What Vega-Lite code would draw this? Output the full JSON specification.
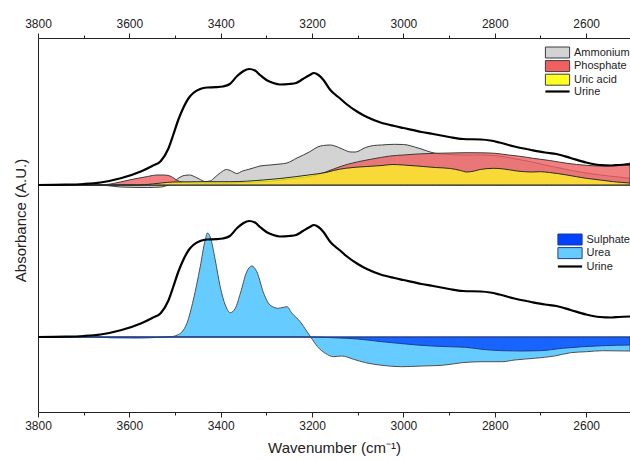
{
  "$schema": "https://vega.github.io/schema/vega-lite/v6.json",
  "width": 592,
  "height": 374,
  "autosize": {"type": "none"},
  "padding": {"left": 38, "top": 38, "right": 0, "bottom": 48},
  "config": {
    "view": {"stroke": null},
    "font": "Liberation Sans",
    "axis": {"grid": false, "domainColor": "#222222", "tickColor": "#222222", "labelColor": "#222222", "titleColor": "#222222", "labelFontSize": 12, "titleFontSize": 15, "titleFontWeight": "normal", "labelFont": "Liberation Sans", "titleFont": "Liberation Sans"},
    "legend": {"labelFont": "Liberation Sans", "labelFontSize": 11, "labelColor": "#222222", "padding": 0}
  },
  "datasets": {
    "urine": [
      {"series": "Urine", "wn": 3800, "v": 0}, {"series": "Urine", "wn": 3740, "v": 0.003}, {"series": "Urine", "wn": 3700, "v": 0.01},
      {"series": "Urine", "wn": 3663, "v": 0.025}, {"series": "Urine", "wn": 3619, "v": 0.067}, {"series": "Urine", "wn": 3575, "v": 0.135},
      {"series": "Urine", "wn": 3550, "v": 0.19}, {"series": "Urine", "wn": 3531, "v": 0.24}, {"series": "Urine", "wn": 3515, "v": 0.36},
      {"series": "Urine", "wn": 3504, "v": 0.5}, {"series": "Urine", "wn": 3493, "v": 0.65}, {"series": "Urine", "wn": 3482, "v": 0.77},
      {"series": "Urine", "wn": 3470, "v": 0.87}, {"series": "Urine", "wn": 3460, "v": 0.92}, {"series": "Urine", "wn": 3445, "v": 0.96},
      {"series": "Urine", "wn": 3430, "v": 0.975}, {"series": "Urine", "wn": 3410, "v": 0.978}, {"series": "Urine", "wn": 3395, "v": 0.985},
      {"series": "Urine", "wn": 3380, "v": 1.01}, {"series": "Urine", "wn": 3364, "v": 1.09}, {"series": "Urine", "wn": 3350, "v": 1.14},
      {"series": "Urine", "wn": 3338, "v": 1.16}, {"series": "Urine", "wn": 3325, "v": 1.145}, {"series": "Urine", "wn": 3314, "v": 1.1},
      {"series": "Urine", "wn": 3300, "v": 1.05}, {"series": "Urine", "wn": 3285, "v": 1.02}, {"series": "Urine", "wn": 3270, "v": 1.005},
      {"series": "Urine", "wn": 3250, "v": 1.01}, {"series": "Urine", "wn": 3235, "v": 1.02}, {"series": "Urine", "wn": 3220, "v": 1.06},
      {"series": "Urine", "wn": 3205, "v": 1.1}, {"series": "Urine", "wn": 3196, "v": 1.12}, {"series": "Urine", "wn": 3186, "v": 1.1},
      {"series": "Urine", "wn": 3175, "v": 1.05}, {"series": "Urine", "wn": 3160, "v": 0.95}, {"series": "Urine", "wn": 3140, "v": 0.87},
      {"series": "Urine", "wn": 3125, "v": 0.81}, {"series": "Urine", "wn": 3100, "v": 0.73}, {"series": "Urine", "wn": 3080, "v": 0.68},
      {"series": "Urine", "wn": 3050, "v": 0.625}, {"series": "Urine", "wn": 3020, "v": 0.59}, {"series": "Urine", "wn": 3000, "v": 0.57},
      {"series": "Urine", "wn": 2960, "v": 0.53}, {"series": "Urine", "wn": 2935, "v": 0.51}, {"series": "Urine", "wn": 2900, "v": 0.48},
      {"series": "Urine", "wn": 2870, "v": 0.46}, {"series": "Urine", "wn": 2830, "v": 0.455}, {"series": "Urine", "wn": 2810, "v": 0.445},
      {"series": "Urine", "wn": 2790, "v": 0.425}, {"series": "Urine", "wn": 2757, "v": 0.385}, {"series": "Urine", "wn": 2720, "v": 0.35},
      {"series": "Urine", "wn": 2690, "v": 0.325}, {"series": "Urine", "wn": 2665, "v": 0.31}, {"series": "Urine", "wn": 2634, "v": 0.27},
      {"series": "Urine", "wn": 2600, "v": 0.225}, {"series": "Urine", "wn": 2570, "v": 0.2}, {"series": "Urine", "wn": 2545, "v": 0.195},
      {"series": "Urine", "wn": 2528, "v": 0.2}, {"series": "Urine", "wn": 2504, "v": 0.205}
    ],
    "panelA": [
      {"series": "Ammonium", "wn": 3800, "v": 0}, {"series": "Ammonium", "wn": 3680, "v": 0}, {"series": "Ammonium", "wn": 3650, "v": -0.005},
      {"series": "Ammonium", "wn": 3620, "v": -0.02}, {"series": "Ammonium", "wn": 3560, "v": -0.025}, {"series": "Ammonium", "wn": 3530, "v": -0.02},
      {"series": "Ammonium", "wn": 3515, "v": 0}, {"series": "Ammonium", "wn": 3505, "v": 0.02}, {"series": "Ammonium", "wn": 3495, "v": 0.06},
      {"series": "Ammonium", "wn": 3480, "v": 0.095}, {"series": "Ammonium", "wn": 3468, "v": 0.1}, {"series": "Ammonium", "wn": 3458, "v": 0.085},
      {"series": "Ammonium", "wn": 3447, "v": 0.06}, {"series": "Ammonium", "wn": 3434, "v": 0.035}, {"series": "Ammonium", "wn": 3423, "v": 0.04},
      {"series": "Ammonium", "wn": 3412, "v": 0.08}, {"series": "Ammonium", "wn": 3400, "v": 0.125}, {"series": "Ammonium", "wn": 3387, "v": 0.155},
      {"series": "Ammonium", "wn": 3377, "v": 0.14}, {"series": "Ammonium", "wn": 3365, "v": 0.115}, {"series": "Ammonium", "wn": 3352, "v": 0.14},
      {"series": "Ammonium", "wn": 3340, "v": 0.155}, {"series": "Ammonium", "wn": 3325, "v": 0.175}, {"series": "Ammonium", "wn": 3314, "v": 0.19},
      {"series": "Ammonium", "wn": 3292, "v": 0.2}, {"series": "Ammonium", "wn": 3270, "v": 0.21}, {"series": "Ammonium", "wn": 3255, "v": 0.22},
      {"series": "Ammonium", "wn": 3233, "v": 0.27}, {"series": "Ammonium", "wn": 3204, "v": 0.335}, {"series": "Ammonium", "wn": 3188, "v": 0.38},
      {"series": "Ammonium", "wn": 3175, "v": 0.395}, {"series": "Ammonium", "wn": 3160, "v": 0.4}, {"series": "Ammonium", "wn": 3150, "v": 0.39},
      {"series": "Ammonium", "wn": 3134, "v": 0.36}, {"series": "Ammonium", "wn": 3115, "v": 0.33}, {"series": "Ammonium", "wn": 3105, "v": 0.33},
      {"series": "Ammonium", "wn": 3083, "v": 0.375}, {"series": "Ammonium", "wn": 3065, "v": 0.395}, {"series": "Ammonium", "wn": 3048, "v": 0.4},
      {"series": "Ammonium", "wn": 3020, "v": 0.407}, {"series": "Ammonium", "wn": 3000, "v": 0.405}, {"series": "Ammonium", "wn": 2968, "v": 0.37},
      {"series": "Ammonium", "wn": 2933, "v": 0.32}, {"series": "Ammonium", "wn": 2900, "v": 0.305}, {"series": "Ammonium", "wn": 2861, "v": 0.3},
      {"series": "Ammonium", "wn": 2830, "v": 0.3}, {"series": "Ammonium", "wn": 2795, "v": 0.292}, {"series": "Ammonium", "wn": 2760, "v": 0.265},
      {"series": "Ammonium", "wn": 2716, "v": 0.228}, {"series": "Ammonium", "wn": 2680, "v": 0.19}, {"series": "Ammonium", "wn": 2642, "v": 0.155},
      {"series": "Ammonium", "wn": 2600, "v": 0.12}, {"series": "Ammonium", "wn": 2569, "v": 0.1}, {"series": "Ammonium", "wn": 2530, "v": 0.08},
      {"series": "Ammonium", "wn": 2504, "v": 0.067},
      {"series": "Phosphate", "wn": 3800, "v": 0}, {"series": "Phosphate", "wn": 3680, "v": 0}, {"series": "Phosphate", "wn": 3650, "v": 0.005},
      {"series": "Phosphate", "wn": 3620, "v": 0.03}, {"series": "Phosphate", "wn": 3590, "v": 0.06}, {"series": "Phosphate", "wn": 3560, "v": 0.085},
      {"series": "Phosphate", "wn": 3540, "v": 0.1}, {"series": "Phosphate", "wn": 3525, "v": 0.1}, {"series": "Phosphate", "wn": 3511, "v": 0.09},
      {"series": "Phosphate", "wn": 3500, "v": 0.06}, {"series": "Phosphate", "wn": 3490, "v": 0.035}, {"series": "Phosphate", "wn": 3475, "v": 0.025},
      {"series": "Phosphate", "wn": 3440, "v": 0.02}, {"series": "Phosphate", "wn": 3400, "v": 0.02}, {"series": "Phosphate", "wn": 3350, "v": 0.025},
      {"series": "Phosphate", "wn": 3300, "v": 0.035}, {"series": "Phosphate", "wn": 3250, "v": 0.06}, {"series": "Phosphate", "wn": 3200, "v": 0.09},
      {"series": "Phosphate", "wn": 3170, "v": 0.13}, {"series": "Phosphate", "wn": 3150, "v": 0.165}, {"series": "Phosphate", "wn": 3120, "v": 0.21},
      {"series": "Phosphate", "wn": 3080, "v": 0.25}, {"series": "Phosphate", "wn": 3050, "v": 0.275}, {"series": "Phosphate", "wn": 3029, "v": 0.29},
      {"series": "Phosphate", "wn": 3000, "v": 0.3}, {"series": "Phosphate", "wn": 2970, "v": 0.31}, {"series": "Phosphate", "wn": 2930, "v": 0.317},
      {"series": "Phosphate", "wn": 2897, "v": 0.32}, {"series": "Phosphate", "wn": 2861, "v": 0.323}, {"series": "Phosphate", "wn": 2830, "v": 0.322},
      {"series": "Phosphate", "wn": 2800, "v": 0.317}, {"series": "Phosphate", "wn": 2770, "v": 0.3}, {"series": "Phosphate", "wn": 2750, "v": 0.29},
      {"series": "Phosphate", "wn": 2716, "v": 0.267}, {"series": "Phosphate", "wn": 2680, "v": 0.245}, {"series": "Phosphate", "wn": 2642, "v": 0.217},
      {"series": "Phosphate", "wn": 2600, "v": 0.197}, {"series": "Phosphate", "wn": 2569, "v": 0.19}, {"series": "Phosphate", "wn": 2540, "v": 0.195},
      {"series": "Phosphate", "wn": 2520, "v": 0.205}, {"series": "Phosphate", "wn": 2504, "v": 0.22},
      {"series": "Uric acid", "wn": 3800, "v": 0}, {"series": "Uric acid", "wn": 3580, "v": 0}, {"series": "Uric acid", "wn": 3550, "v": 0.01},
      {"series": "Uric acid", "wn": 3530, "v": 0.02}, {"series": "Uric acid", "wn": 3504, "v": 0.03}, {"series": "Uric acid", "wn": 3450, "v": 0.033},
      {"series": "Uric acid", "wn": 3380, "v": 0.033}, {"series": "Uric acid", "wn": 3307, "v": 0.05}, {"series": "Uric acid", "wn": 3270, "v": 0.065},
      {"series": "Uric acid", "wn": 3233, "v": 0.085}, {"series": "Uric acid", "wn": 3200, "v": 0.105}, {"series": "Uric acid", "wn": 3170, "v": 0.125},
      {"series": "Uric acid", "wn": 3153, "v": 0.145}, {"series": "Uric acid", "wn": 3127, "v": 0.167}, {"series": "Uric acid", "wn": 3080, "v": 0.185},
      {"series": "Uric acid", "wn": 3047, "v": 0.195}, {"series": "Uric acid", "wn": 3025, "v": 0.205}, {"series": "Uric acid", "wn": 3000, "v": 0.2},
      {"series": "Uric acid", "wn": 2970, "v": 0.19}, {"series": "Uric acid", "wn": 2930, "v": 0.175}, {"series": "Uric acid", "wn": 2897, "v": 0.165},
      {"series": "Uric acid", "wn": 2875, "v": 0.145}, {"series": "Uric acid", "wn": 2861, "v": 0.13}, {"series": "Uric acid", "wn": 2845, "v": 0.14},
      {"series": "Uric acid", "wn": 2832, "v": 0.155}, {"series": "Uric acid", "wn": 2802, "v": 0.167}, {"series": "Uric acid", "wn": 2780, "v": 0.16},
      {"series": "Uric acid", "wn": 2751, "v": 0.14}, {"series": "Uric acid", "wn": 2720, "v": 0.13}, {"series": "Uric acid", "wn": 2700, "v": 0.133},
      {"series": "Uric acid", "wn": 2680, "v": 0.125}, {"series": "Uric acid", "wn": 2642, "v": 0.1}, {"series": "Uric acid", "wn": 2600, "v": 0.067},
      {"series": "Uric acid", "wn": 2569, "v": 0.05}, {"series": "Uric acid", "wn": 2540, "v": 0.033}, {"series": "Uric acid", "wn": 2504, "v": 0.02}
    ],
    "panelB": [
      {"series": "Urea", "wn": 3800, "v": 0}, {"series": "Urea", "wn": 3520, "v": 0}, {"series": "Urea", "wn": 3511, "v": 0.002},
      {"series": "Urea", "wn": 3495, "v": 0.02}, {"series": "Urea", "wn": 3485, "v": 0.05}, {"series": "Urea", "wn": 3474, "v": 0.137},
      {"series": "Urea", "wn": 3460, "v": 0.37}, {"series": "Urea", "wn": 3445, "v": 0.7}, {"series": "Urea", "wn": 3434, "v": 0.97},
      {"series": "Urea", "wn": 3429, "v": 1.04}, {"series": "Urea", "wn": 3423, "v": 1.0}, {"series": "Urea", "wn": 3412, "v": 0.77},
      {"series": "Urea", "wn": 3401, "v": 0.5}, {"series": "Urea", "wn": 3390, "v": 0.32}, {"series": "Urea", "wn": 3379, "v": 0.243},
      {"series": "Urea", "wn": 3368, "v": 0.287}, {"series": "Urea", "wn": 3357, "v": 0.437}, {"series": "Urea", "wn": 3343, "v": 0.653},
      {"series": "Urea", "wn": 3332, "v": 0.71}, {"series": "Urea", "wn": 3321, "v": 0.653}, {"series": "Urea", "wn": 3306, "v": 0.437},
      {"series": "Urea", "wn": 3292, "v": 0.32}, {"series": "Urea", "wn": 3274, "v": 0.287}, {"series": "Urea", "wn": 3263, "v": 0.297},
      {"series": "Urea", "wn": 3255, "v": 0.303}, {"series": "Urea", "wn": 3244, "v": 0.237}, {"series": "Urea", "wn": 3226, "v": 0.153},
      {"series": "Urea", "wn": 3211, "v": 0.053}, {"series": "Urea", "wn": 3203, "v": 0}, {"series": "Urea", "wn": 3188, "v": -0.097},
      {"series": "Urea", "wn": 3171, "v": -0.163}, {"series": "Urea", "wn": 3153, "v": -0.197}, {"series": "Urea", "wn": 3135, "v": -0.19},
      {"series": "Urea", "wn": 3109, "v": -0.223}, {"series": "Urea", "wn": 3083, "v": -0.257}, {"series": "Urea", "wn": 3047, "v": -0.283},
      {"series": "Urea", "wn": 3004, "v": -0.297}, {"series": "Urea", "wn": 2960, "v": -0.29}, {"series": "Urea", "wn": 2915, "v": -0.283},
      {"series": "Urea", "wn": 2872, "v": -0.257}, {"series": "Urea", "wn": 2828, "v": -0.247}, {"series": "Urea", "wn": 2784, "v": -0.247},
      {"series": "Urea", "wn": 2757, "v": -0.23}, {"series": "Urea", "wn": 2713, "v": -0.213}, {"series": "Urea", "wn": 2669, "v": -0.19},
      {"series": "Urea", "wn": 2634, "v": -0.157}, {"series": "Urea", "wn": 2599, "v": -0.147}, {"series": "Urea", "wn": 2564, "v": -0.137},
      {"series": "Urea", "wn": 2504, "v": -0.14},
      {"series": "Sulphate", "wn": 3800, "v": 0}, {"series": "Sulphate", "wn": 3680, "v": 0}, {"series": "Sulphate", "wn": 3640, "v": -0.008},
      {"series": "Sulphate", "wn": 3580, "v": -0.01}, {"series": "Sulphate", "wn": 3540, "v": -0.005}, {"series": "Sulphate", "wn": 3510, "v": 0},
      {"series": "Sulphate", "wn": 3210, "v": 0}, {"series": "Sulphate", "wn": 3150, "v": -0.008}, {"series": "Sulphate", "wn": 3100, "v": -0.02},
      {"series": "Sulphate", "wn": 3047, "v": -0.047}, {"series": "Sulphate", "wn": 3011, "v": -0.063}, {"series": "Sulphate", "wn": 2970, "v": -0.08},
      {"series": "Sulphate", "wn": 2937, "v": -0.09}, {"series": "Sulphate", "wn": 2900, "v": -0.097}, {"series": "Sulphate", "wn": 2864, "v": -0.103},
      {"series": "Sulphate", "wn": 2828, "v": -0.123}, {"series": "Sulphate", "wn": 2784, "v": -0.137}, {"series": "Sulphate", "wn": 2740, "v": -0.14},
      {"series": "Sulphate", "wn": 2700, "v": -0.137}, {"series": "Sulphate", "wn": 2652, "v": -0.113}, {"series": "Sulphate", "wn": 2608, "v": -0.097},
      {"series": "Sulphate", "wn": 2564, "v": -0.087}, {"series": "Sulphate", "wn": 2504, "v": -0.08}
    ]
  },
  "layer": [
    {
      "layer": [
        {
          "data": {"name": "panelA"},
          "transform": [{"filter": "datum.series === 'Ammonium'"}],
          "mark": {"type": "area", "interpolate": "monotone", "stroke": "#3c3c3c", "strokeWidth": 1},
          "encoding": {
            "x": {"field": "wn", "type": "quantitative", "scale": {"domain": [2504, 3800], "reverse": true, "nice": false, "zero": false},
                  "axis": {"orient": "top", "values": [3800, 3600, 3400, 3200, 3000, 2800, 2600], "tickSize": 5, "labelPadding": 3, "title": null, "format": "d", "labelFlush": false}},
            "y": {"field": "v", "type": "quantitative", "scale": {"domain": [-2.27, 1.47], "nice": false, "zero": false}, "axis": null},
            "fill": {"field": "series", "type": "nominal",
                     "scale": {"domain": ["Ammonium", "Phosphate", "Uric acid"], "range": ["#d3d3d3", "#f06060", "#ffff20"]},
                     "legend": {"orient": "none", "legendX": 514, "legendY": 9, "title": null, "symbolSize": 49,
                                "symbolType": "M-3.457,-1.571H3.457V1.571H-3.457Z", "symbolStrokeColor": "#9a9a9a", "symbolStrokeWidth": 1,
                                "symbolOpacity": 1, "labelOffset": 11, "rowPadding": -1.4}}
          }
        },
        {
          "data": {"name": "panelA"},
          "transform": [{"filter": "datum.series === 'Phosphate'"}],
          "mark": {"type": "area", "interpolate": "monotone", "fillOpacity": 0.8, "stroke": "#3c3c3c", "strokeWidth": 1},
          "encoding": {
            "x": {"field": "wn", "type": "quantitative", "scale": {"domain": [2504, 3800], "reverse": true, "nice": false, "zero": false},
                  "axis": {"orient": "top", "values": [3700, 3500, 3300, 3100, 2900, 2700], "tickSize": 3, "labels": false, "domain": false, "title": null}},
            "y": {"field": "v", "type": "quantitative", "axis": null},
            "fill": {"field": "series", "type": "nominal"}
          }
        },
        {
          "data": {"name": "panelA"},
          "transform": [{"filter": "datum.series === 'Uric acid'"}],
          "mark": {"type": "area", "interpolate": "monotone", "fillOpacity": 0.72, "stroke": "#2a2a2a", "strokeWidth": 1},
          "encoding": {
            "x": {"field": "wn", "type": "quantitative", "axis": null},
            "y": {"field": "v", "type": "quantitative", "axis": null},
            "fill": {"field": "series", "type": "nominal"}
          }
        },
        {
          "data": {"name": "urine"},
          "mark": {"type": "line", "interpolate": "monotone", "strokeWidth": 2.2},
          "encoding": {
            "x": {"field": "wn", "type": "quantitative", "axis": null},
            "y": {"field": "v", "type": "quantitative", "axis": null},
            "stroke": {"field": "series", "type": "nominal",
                       "scale": {"domain": ["Urine"], "range": ["#000000"]},
                       "legend": {"orient": "none", "legendX": 514, "legendY": 48, "title": null, "symbolSize": 49,
                                  "symbolType": "M-3.457,0H3.457", "symbolStrokeWidth": 2.2, "labelOffset": 11}}
          }
        },
        {
          "mark": {"type": "text", "align": "left", "baseline": "middle", "fontSize": 15, "color": "#222222"},
          "encoding": {
            "x": {"datum": 3791, "type": "quantitative", "axis": null},
            "y": {"datum": 1.335, "type": "quantitative", "axis": null},
            "text": {"value": "a)"}
          }
        }
      ],
      "resolve": {"axis": {"x": "independent"}}
    },
    {
      "layer": [
        {
          "data": {"name": "panelB"},
          "transform": [{"filter": "datum.series === 'Urea'"}],
          "mark": {"type": "area", "interpolate": "monotone", "stroke": "#505050", "strokeWidth": 1},
          "encoding": {
            "x": {"field": "wn", "type": "quantitative", "scale": {"domain": [2504, 3800], "reverse": true, "nice": false, "zero": false},
                  "axis": {"orient": "bottom", "values": [3800, 3600, 3400, 3200, 3000, 2800, 2600], "tickSize": 5, "labelPadding": 3, "format": "d", "labelFlush": false,
                           "title": "Wavenumber (cm⁻¹)", "titlePadding": 9}},
            "y": {"field": "v", "type": "quantitative", "scale": {"domain": [-0.75, 2.99], "nice": false, "zero": false},
                  "axis": {"orient": "left", "title": "Absorbance (A.U.)", "labels": false, "ticks": false, "grid": false, "domain": true, "titlePadding": 10, "titleY": 182}},
            "fill": {"field": "series", "type": "nominal",
                     "scale": {"domain": ["Sulphate", "Urea"], "range": ["#0040ff", "#66ccff"]},
                     "legend": {"orient": "none", "legendX": 526.5, "legendY": 196, "title": null, "symbolSize": 49,
                                "symbolType": "M-3.457,-1.571H3.457V1.571H-3.457Z", "symbolStrokeColor": "#9a9a9a", "symbolStrokeWidth": 1,
                                "symbolOpacity": 1, "labelOffset": 11, "rowPadding": -1.4}}
          }
        },
        {
          "data": {"name": "panelB"},
          "transform": [{"filter": "datum.series === 'Sulphate'"}],
          "mark": {"type": "area", "interpolate": "monotone", "fillOpacity": 0.75, "stroke": "#1f3f8f", "strokeWidth": 1},
          "encoding": {
            "x": {"field": "wn", "type": "quantitative", "scale": {"domain": [2504, 3800], "reverse": true, "nice": false, "zero": false},
                  "axis": {"orient": "bottom", "values": [3700, 3500, 3300, 3100, 2900, 2700], "tickSize": 3, "labels": false, "domain": false, "title": null}},
            "y": {"field": "v", "type": "quantitative"},
            "fill": {"field": "series", "type": "nominal"}
          }
        },
        {
          "mark": {"type": "rule", "color": "#111111", "strokeWidth": 1.5},
          "encoding": {"y": {"datum": 0, "type": "quantitative"}}
        },
        {
          "data": {"name": "urine"},
          "mark": {"type": "line", "interpolate": "monotone", "strokeWidth": 2.2},
          "encoding": {
            "x": {"field": "wn", "type": "quantitative", "axis": null},
            "y": {"field": "v", "type": "quantitative"},
            "stroke": {"field": "series", "type": "nominal",
                       "scale": {"domain": ["Urine"], "range": ["#000000"]},
                       "legend": {"orient": "none", "legendX": 526.5, "legendY": 223, "title": null, "symbolSize": 49,
                                  "symbolType": "M-3.457,0H3.457", "symbolStrokeWidth": 2.2, "labelOffset": 11}}
          }
        },
        {
          "mark": {"type": "text", "align": "left", "baseline": "middle", "fontSize": 15, "color": "#222222"},
          "encoding": {
            "x": {"datum": 3791, "type": "quantitative", "axis": null},
            "y": {"datum": 1.3, "type": "quantitative"},
            "text": {"value": "b)"}
          }
        }
      ],
      "resolve": {"axis": {"x": "independent"}}
    }
  ],
  "resolve": {"scale": {"fill": "independent", "stroke": "independent", "y": "independent"}, "axis": {"x": "independent", "y": "independent"}}
}
